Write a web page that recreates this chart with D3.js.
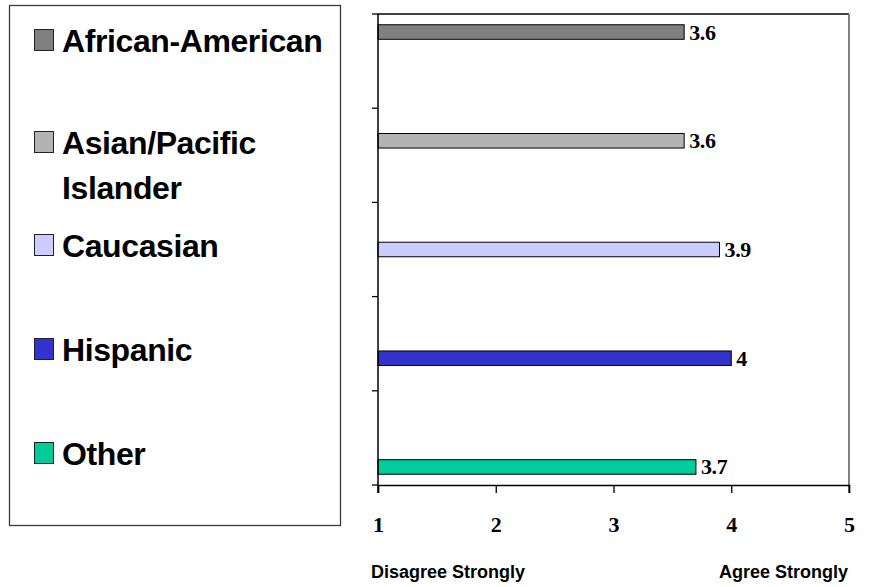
<!DOCTYPE html>
<html>
<head>
<meta charset="utf-8">
<script src="https://cdn.jsdelivr.net/npm/d3@7"></script>
<style>
  html, body { margin: 0; padding: 0; background: #fff; }
  svg { display: block; }
</style>
</head>
<body>
<svg id="chart" width="870" height="587"></svg>
<script>
// Survey groups, one bar each, placed in its own slot of a five-row grouped layout
const groups = ["African-American", "Asian/Pacific Islander", "Caucasian", "Hispanic", "Other"];
const legendLines = [["African-American"], ["Asian/Pacific", "Islander"], ["Caucasian"], ["Hispanic"], ["Other"]];
const scores = [3.6, 3.6, 3.9, 4, 3.7];
const colors = ["#808080", "#b3b3b3", "#ccccff", "#3333cc", "#00cc99"];
const xTicks = [1, 2, 3, 4, 5];
const scaleEnds = ["Disagree Strongly", "Agree Strongly"];

const svg = d3.select("#chart");
const plot = { left: 378, right: 849, top: 14, bottom: 485 };

const serif = "'Liberation Serif', 'Times New Roman', serif";
const sans = "'Liberation Sans', Arial, Helvetica, sans-serif";

// Scales
const x = d3.scaleLinear().domain([1, 5]).range([plot.left, plot.right]);
const yRow = d3.scaleBand().domain(groups).range([plot.top, plot.bottom]).paddingInner(0).paddingOuter(0);
const ySlot = d3.scaleBand().domain(groups).range([0, yRow.bandwidth()]).paddingInner(0).paddingOuter(0.74);

// Legend box
const legend = svg.append("g");
legend.append("rect")
  .attr("x", 9.5).attr("y", 5.5).attr("width", 331).attr("height", 520)
  .attr("fill", "#fff").attr("stroke", "#3a3a3a").attr("stroke-width", 1.3);

const legendBase = [52, 154, 257, 361, 465];
groups.forEach((g, i) => {
  const item = legend.append("g");
  item.append("rect")
    .attr("x", 34.5).attr("y", legendBase[i] - 22.5).attr("width", 19).attr("height", 21)
    .attr("fill", colors[i]).attr("stroke", "#222").attr("stroke-width", 1);
  const t = item.append("text")
    .attr("x", 62).attr("y", legendBase[i])
    .attr("font-family", sans).attr("font-weight", "bold").attr("font-size", 32)
    .attr("letter-spacing", -0.4)
    .attr("fill", "#000");
  legendLines[i].forEach((line, j) => {
    t.append("tspan").attr("x", 62).attr("dy", j === 0 ? 0 : 45).text(line);
  });
});

// Plot frame: black top edge, gray right edge
svg.append("line")
  .attr("x1", plot.left).attr("x2", plot.right).attr("y1", plot.top).attr("y2", plot.top)
  .attr("stroke", "#000").attr("stroke-width", 1.3);
svg.append("line")
  .attr("x1", plot.right).attr("x2", plot.right).attr("y1", plot.top).attr("y2", plot.bottom + 8)
  .attr("stroke", "#808080").attr("stroke-width", 2);

// Bars
svg.append("g").selectAll("rect")
  .data(groups)
  .join("rect")
  .attr("x", x(1))
  .attr("y", (g) => yRow(g) + ySlot(g))
  .attr("width", (g, i) => x(scores[i]) - x(1))
  .attr("height", ySlot.bandwidth())
  .attr("fill", (g, i) => colors[i])
  .attr("stroke", "#000").attr("stroke-width", 1);

// Value labels
svg.append("g").selectAll("text")
  .data(groups)
  .join("text")
  .attr("x", (g, i) => x(scores[i]) + 5)
  .attr("y", (g) => yRow(g) + ySlot(g) + ySlot.bandwidth() / 2 + 7.5)
  .attr("font-family", serif).attr("font-weight", "bold").attr("font-size", 22)
  .attr("letter-spacing", -0.3)
  .text((g, i) => d3.format("")(scores[i]));

// Category axis (left): tick marks only, no labels
const yAxisTicks = d3.range(groups.length + 1).map((k) => plot.top + k * yRow.step());
svg.append("g").selectAll("line")
  .data(yAxisTicks)
  .join("line")
  .attr("x1", plot.left - 6).attr("x2", plot.left)
  .attr("y1", (d) => d).attr("y2", (d) => d)
  .attr("stroke", "#000").attr("stroke-width", 1.3);
svg.append("line")
  .attr("x1", plot.left).attr("x2", plot.left).attr("y1", plot.top).attr("y2", plot.bottom + 8)
  .attr("stroke", "#000").attr("stroke-width", 1.5);

// Value axis (bottom)
const xAxis = svg.append("g")
  .attr("transform", `translate(0,${plot.bottom})`)
  .call(d3.axisBottom(x).tickValues(xTicks).tickSize(8).tickPadding(23).tickFormat(d3.format("d")));
xAxis.select(".domain").attr("stroke", "#000").attr("stroke-width", 1.5);
xAxis.selectAll(".tick line").attr("stroke", "#000").attr("stroke-width", 1.3);
xAxis.selectAll(".tick text")
  .attr("font-family", serif).attr("font-weight", "bold").attr("font-size", 22)
  .attr("fill", "#000");

// Scale end descriptions
svg.append("text")
  .attr("x", 371).attr("y", 578)
  .attr("font-family", sans).attr("font-weight", "bold").attr("font-size", 18)
  .text(scaleEnds[0]);
svg.append("text")
  .attr("x", 848).attr("y", 578).attr("text-anchor", "end")
  .attr("font-family", sans).attr("font-weight", "bold").attr("font-size", 18)
  .text(scaleEnds[1]);
</script>
</body>
</html>
